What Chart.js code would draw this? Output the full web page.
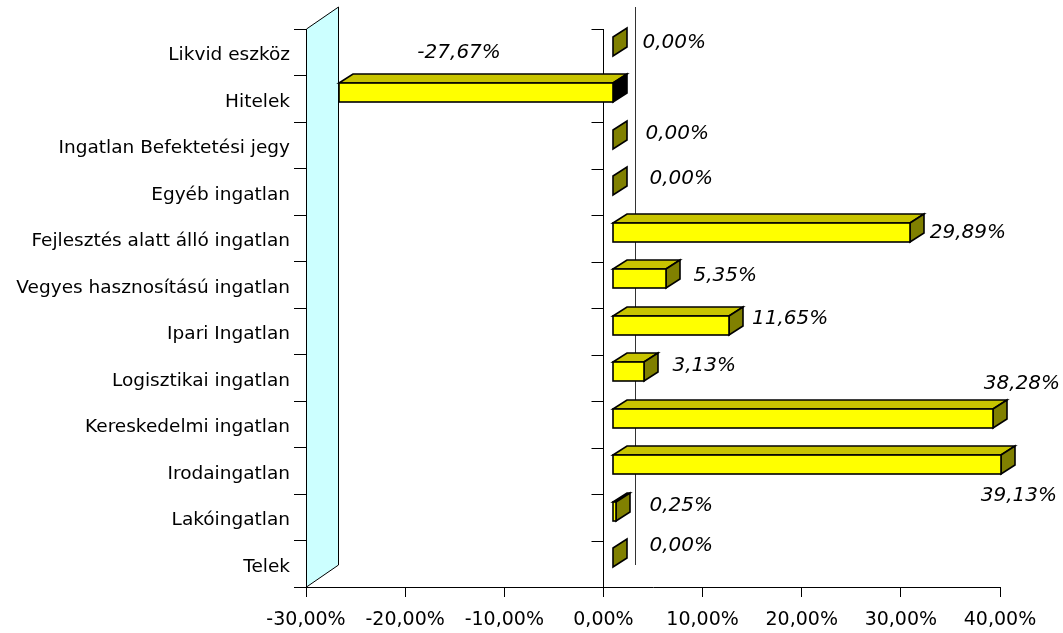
<!DOCTYPE html>
<html><head><meta charset="utf-8">
<script src="https://cdn.jsdelivr.net/npm/chart.js@4/dist/chart.umd.min.js"></script>
<style>html,body{margin:0;padding:0;background:#fff;}#wrap{width:1063px;height:633px;}</style>
</head><body><div id="wrap"><canvas id="c" width="1063" height="633"></canvas></div>
<script>
const categories = ["Likvid eszköz","Hitelek","Ingatlan Befektetési jegy","Egyéb ingatlan","Fejlesztés alatt álló ingatlan","Vegyes hasznosítású ingatlan","Ipari Ingatlan","Logisztikai ingatlan","Kereskedelmi ingatlan","Irodaingatlan","Lakóingatlan","Telek"];
const values = [0, -27.67, 0, 0, 29.89, 5.35, 11.65, 3.13, 38.28, 39.13, 0.25, 0];
const xMin = -30, xMax = 40, xStep = 10;

// label placement style (not data): offsets from the bar's front end / centre
const labelPlace = [
  {mode:'right', dx:29, dy:-3}, {mode:'center', dx:120, dy:-39.5}, {mode:'right', dx:32, dy:-5}, {mode:'right', dx:36, dy:-7},
  {mode:'right', dx:20, dy:1}, {mode:'right', dx:27, dy:-3}, {mode:'right', dx:23, dy:-6}, {mode:'right', dx:28, dy:-6},
  {mode:'center', dx:29, dy:-34}, {mode:'center', dx:17.5, dy:31}, {mode:'right', dx:33.5, dy:-5}, {mode:'right', dx:36, dy:-12}
];

const FONT = "'DejaVu Sans', sans-serif";
const fmt = v => v.toFixed(2).replace('.', ',') + '%';

const DX = 14, DY = -9, FRONT_SHIFT = 10, BAR_H = 19, Y_SHIFT = -6;
const WALL_DX = 32, WALL_DY = -22;

const plugin3d = {
  id: 'plugin3d',
  beforeDatasetsDraw(chart) {
    const ctx = chart.ctx, a = chart.chartArea;
    const xs = chart.scales.x;
    const x0 = Math.round(xs.getPixelForValue(0)) + 0.5;
    ctx.save();
    ctx.lineWidth = 1; ctx.strokeStyle = '#000';
    const L = Math.round(a.left) + 0.5, T = a.top, B = a.bottom;
    ctx.beginPath();
    ctx.moveTo(L, B); ctx.lineTo(L, T); ctx.lineTo(L + WALL_DX, T + WALL_DY);
    ctx.lineTo(L + WALL_DX, B + WALL_DY); ctx.closePath();
    ctx.fillStyle = '#CCFFFF'; ctx.fill(); ctx.stroke();
    ctx.strokeStyle = '#333';
    ctx.beginPath(); ctx.moveTo(x0 + WALL_DX, T + WALL_DY); ctx.lineTo(x0 + WALL_DX, B + WALL_DY); ctx.stroke();
    ctx.strokeStyle = '#000';
    ctx.beginPath(); ctx.moveTo(x0, T); ctx.lineTo(x0, B); ctx.stroke();
    for (let i = 0; i <= categories.length; i++) {
      const y = Math.round(T + (B - T) * i / categories.length) + 0.5;
      ctx.beginPath(); ctx.moveTo(x0 - 12, y); ctx.lineTo(x0, y); ctx.stroke();
    }
    ctx.restore();
  },
  afterDatasetsDraw(chart) {
    const ctx = chart.ctx;
    const xs = chart.scales.x, ys = chart.scales.y;
    ctx.save();
    ctx.lineWidth = 1.6; ctx.strokeStyle = '#000'; ctx.lineJoin = 'miter';
    const poly = (pts, fill) => {
      ctx.beginPath(); ctx.moveTo(pts[0][0], pts[0][1]);
      for (let k = 1; k < pts.length; k++) ctx.lineTo(pts[k][0], pts[k][1]);
      ctx.closePath(); ctx.fillStyle = fill; ctx.fill(); ctx.stroke();
    };
    values.forEach((v, i) => {
      const yc = ys.getPixelForValue(i) + Y_SHIFT;
      const yT = Math.round(yc - BAR_H / 2), yB = Math.round(yc + BAR_H / 2);
      const xa = xs.getPixelForValue(0) + FRONT_SHIFT, xb = xs.getPixelForValue(v) + FRONT_SHIFT;
      const l = Math.round(Math.min(xa, xb)), r = Math.round(Math.max(xa, xb));
      if (r - l > 0.5) poly([[l, yT], [l + DX, yT + DY], [r + DX, yT + DY], [r, yT]], '#C8C400');
      poly([[r, yT], [r + DX, yT + DY], [r + DX, yB + DY], [r, yB]], v < 0 ? '#000000' : '#808000');
      if (r - l > 0.5) { ctx.fillStyle = '#FFFF00'; ctx.fillRect(l, yT, r - l, yB - yT); ctx.strokeRect(l, yT, r - l, yB - yT); }
      const p = labelPlace[i];
      ctx.fillStyle = '#000';
      ctx.font = 'italic 20px ' + FONT;
      ctx.textBaseline = 'middle';
      ctx.textAlign = p.mode === 'right' ? 'left' : 'center';
      ctx.fillText(fmt(v), xb + p.dx, yc + p.dy);
    });
    ctx.restore();
  }
};

new Chart(document.getElementById('c'), {
  type: 'bar',
  data: {
    labels: categories,
    datasets: [{ data: values, backgroundColor: 'rgba(0,0,0,0)', borderWidth: 0, barThickness: BAR_H }]
  },
  options: {
    indexAxis: 'y',
    responsive: false,
    animation: false,
    devicePixelRatio: 1,
    layout: { padding: { top: 29, right: 63, left: 0, bottom: 0 } },
    plugins: { legend: { display: false }, tooltip: { enabled: false } },
    scales: {
      x: {
        min: xMin, max: xMax,
        ticks: { stepSize: xStep, color: '#000', font: { family: FONT, size: 19 }, padding: 12, maxRotation: 0,
                 callback: v => fmt(v) },
        grid: { drawOnChartArea: false, tickLength: 10, color: '#000' },
        border: { color: '#000', width: 1 },
        afterFit: s => { s.height = 46; }
      },
      y: {
        ticks: { color: '#000', font: { family: FONT, size: 18.5 }, padding: 4, labelOffset: 3 },
        grid: { drawOnChartArea: false, tickLength: 12, color: '#000', offset: true },
        border: { color: '#000', width: 1 },
        afterFit: s => { s.width = 306; }
      }
    }
  },
  plugins: [plugin3d]
});
</script></body></html>
